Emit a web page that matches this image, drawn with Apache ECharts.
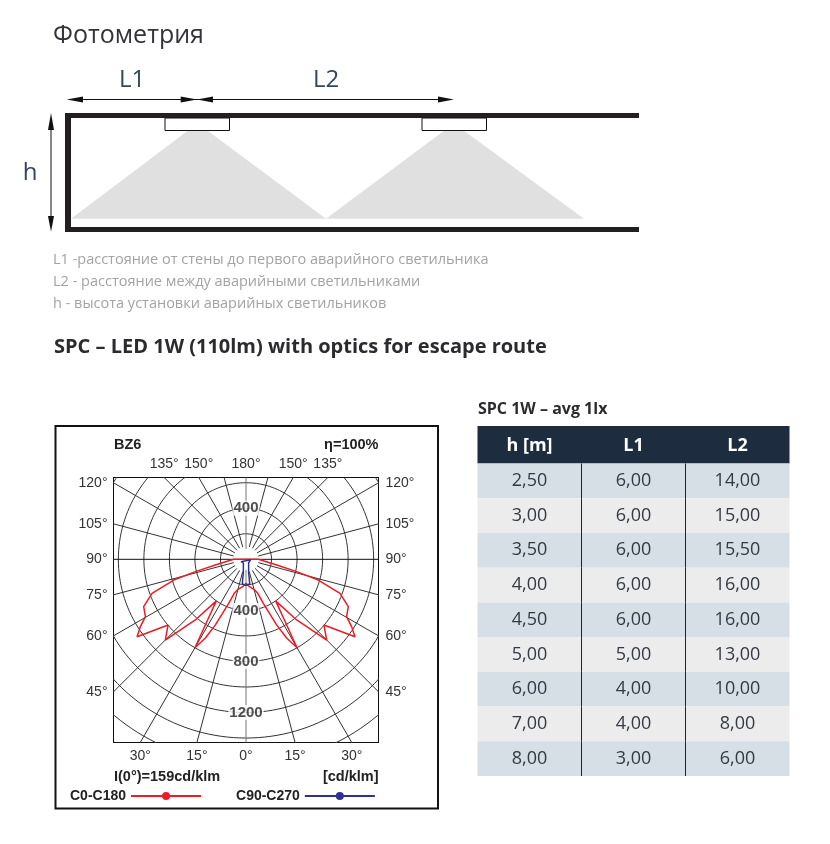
<!DOCTYPE html>
<html><head><meta charset="utf-8">
<style>html,body{margin:0;padding:0;background:#fff}#c{width:830px;height:844px}</style>
<script src="https://cdn.jsdelivr.net/npm/echarts@6/dist/echarts.min.js"></script>
</head><body><div id="c"></div>
<script>
// ---- photometric data (angle from nadir in degrees, intensity in cd/klm)
const c0Angles = [90,79.5,76.3,74,70.1,65.2,60.3,57.5,54.6,49.9,45,39.9,35.5,31.8,30,27.3,25,21.5,18.8,14.9,7,0,
  -7,-14.9,-18.8,-21.5,-25,-27.3,-30,-31.8,-35.5,-39.9,-45,-49.9,-54.6,-57.5,-60.3,-65.2,-70.1,-74,-76.3,-79.5,-90,90];
const c0Values = [97,245,408,589,783,883,907,981,1047,798,894,619,400,605,800,694,567,370,276,243,216,188,
  216,243,276,370,567,694,800,605,400,619,894,798,1047,981,907,883,783,589,408,245,97,97];
const c90Angles = [86,65,36,11.3,9.5,8.5,3.7,0,-3.7,-8.5,-9.5,-11.3,-36,-65,-86,86];
const c90Values = [37,43,35,106,159,195,204,204,204,195,159,106,35,43,37,37];
const ringValues = [200,400,600,800,1000,1200,1400,1600];
const spokeAngles = [15,30,45,60,75,105,120,135,150,165,195,210,225,240,255,285,300,315,330,345];
const ringLabels = [[0,400,'400'],[0,-400,'400'],[0,-800,'800'],[0,-1200,'1200']];
const bottomTickAngles = [-30,-15,0,15,30];
const bottomTickLabels = ['30°','15°','0°','15°','30°'];
const topTickAngles = [-45,-30,0,30,45];
const topTickLabels = ['135°','150°','180°','150°','135°'];
const sideTickAngles = [120,105,90,75,60,45];
const sideTickLabels = ['120°','105°','90°','75°','60°','45°'];
// ---- table data
const tableColumns = ['h [m]','L1','L2'];
const hValues = [2.5,3,3.5,4,4.5,5,6,7,8];
const l1Values = [6,6,6,6,6,5,4,4,3];
const l2Values = [14,15,15.5,16,16,13,10,8,6];

const rad = d => d*Math.PI/180;
const XR = 1038, YTOP = 641, YBOT = -1435;
const toXY = (a,r) => [r*Math.sin(rad(a)), -r*Math.cos(rad(a))];
const lineCfg = {type:'line',showSymbol:false,symbol:'none',silent:true,clip:true,animation:false,xAxisIndex:0,yAxisIndex:0};
const series = [];
ringValues.forEach(r=>{
  const pts=[]; for(let a=0;a<=360;a+=2) pts.push(toXY(a,r));
  series.push({...lineCfg,data:pts,lineStyle:{color:'#333',width:1},z:2});
});
spokeAngles.forEach(a=>{
  series.push({...lineCfg,data:[toXY(a,100),toXY(a,2000)],lineStyle:{color:'#333',width:1},z:2});
});
series.push({...lineCfg,data:[[0,YTOP],[0,82]],lineStyle:{color:'#777',width:1},z:2});
series.push({...lineCfg,data:[[0,-82],[0,YBOT]],lineStyle:{color:'#777',width:1},z:2});
series.push({...lineCfg,data:[[-XR,0],[XR,0]],lineStyle:{color:'#111',width:1},z:2});
series.push({...lineCfg,name:'C0-C180',data:c0Angles.map((a,i)=>toXY(a,c0Values[i])),lineStyle:{color:'#ed1c24',width:1.5},itemStyle:{color:'#ed1c24'},z:4});
series.push({...lineCfg,name:'C90-C270',data:c90Angles.map((a,i)=>toXY(a,c90Values[i])),lineStyle:{color:'#2e3192',width:1.5},itemStyle:{color:'#2e3192'},z:5});
series.push({type:'scatter',symbolSize:0,silent:true,animation:false,xAxisIndex:0,yAxisIndex:0,z:6,
  data:ringLabels.map(d=>({value:[d[0],d[1]],label:{formatter:d[2]}})),
  label:{show:true,position:'inside',fontFamily:'Liberation Sans',fontWeight:'bold',fontSize:15,color:'#222',backgroundColor:'#fff',padding:[0,1,0,1]}});
// table cells
const tableData=[]; [hValues,l1Values,l2Values].forEach((col,c)=>col.forEach((v,r)=>tableData.push([c,r,v])));
series.push({type:'custom',xAxisIndex:2,yAxisIndex:2,silent:true,animation:false,data:tableData,encode:{x:0,y:1},
  renderItem(p,api){
    const c=api.value(0), r=api.value(1), v=api.value(2);
    const pt=api.coord([c,r]), s=api.size([1,1]);
    const x0=pt[0]-s[0]/2, y0=pt[1]-s[1]/2;
    const kids=[{type:'rect',shape:{x:x0,y:y0,width:s[0],height:s[1]},style:{fill:r%2?'#ececec':'#d5dfe5'}}];
    if(c>0) kids.push({type:'line',shape:{x1:x0,y1:y0,x2:x0,y2:y0+s[1]},style:{stroke:'#222',lineWidth:1},z2:5});
    kids.push({type:'text',style:{text:v.toFixed(2).replace('.',','),x:pt[0],y:pt[1],align:'center',verticalAlign:'middle',font:'18px "Open Sans"',fill:'#333a45'},z2:6});
    return {type:'group',children:kids};
  }});

const sideLabel = {show:true,fontFamily:'Liberation Sans',fontSize:14,color:'#333'};
const tanD = d=>Math.tan(rad(d));
const bottomVals = bottomTickAngles.map(a=>-YBOT*tanD(a));
const topVals = topTickAngles.map(a=>YTOP*tanD(a));
const sideVals = sideTickAngles.map(a=>XR*tanD(a-90));
const fmt=(vals,labs)=>v=>{let b=0;vals.forEach((x,i)=>{if(Math.abs(x-v)<Math.abs(vals[b]-v))b=i});return labs[b]};
const line={show:true,onZero:false,lineStyle:{color:'#111',width:1}};

const T=(text,x,y,font,fill,align)=>({type:'text',style:{text,x,y,font,fill,align:align||'left',verticalAlign:'middle'}});
const poly=(points,fill)=>({type:'polygon',shape:{points},style:{fill}});
const rect=(x,y,w,h,fill,stroke,lw)=>({type:'rect',shape:{x,y,width:w,height:h},style:{fill:fill||'none',stroke:stroke||'none',lineWidth:lw||0}});
const seg=(x1,y1,x2,y2,w)=>({type:'line',shape:{x1,y1,x2,y2},style:{stroke:'#111',lineWidth:w||1}});
const OS='"Open Sans"';
const graphic=[
  T('Фотометрия',53,36,'25px '+OS,'#33333a'),
  T('L1',132,80,'24px '+OS,'#34465c','center'),
  T('L2',326,80,'24px '+OS,'#34465c','center'),
  T('h',30,173,'24px '+OS,'#34465c','center'),
  // cones
  poly([[71,218.7],[187.7,130.7],[207.7,130.7],[326,218.7]],'#e0e0e1'),
  poly([[326,218.7],[444,130.7],[464,130.7],[584,218.7]],'#e0e0e1'),
  // room walls
  rect(65,113,574,5,'#231f20'),rect(65,113,6,119,'#231f20'),rect(65,227,574,5,'#231f20'),
  // fixtures
  rect(165,118,64.5,12.5,'#fff','#111',1),rect(422,118,64.5,12.5,'#fff','#111',1),
  // dimension arrows
  seg(70,99.5,450,99.5,1),seg(51,120,51,225,1),
  poly([[66.7,99.5],[83,96.5],[83,102.5]],'#111'),
  poly([[197,99.5],[180.7,96.5],[180.7,102.5]],'#111'),
  poly([[197,99.5],[213,96.5],[213,102.5]],'#111'),
  poly([[454,99.5],[438,96.5],[438,102.5]],'#111'),
  poly([[51,113],[48,130],[54,130]],'#111'),
  poly([[51,231.7],[48,216],[54,216]],'#111'),
  T('L1 -расстояние от стены до первого аварийного светильника',53,260,'14.5px '+OS,'#a3a3a3'),
  T('L2 - расстояние между аварийными светильниками',53,282,'14.5px '+OS,'#a3a3a3'),
  T('h - высота установки аварийных светильников',53,304,'14.5px '+OS,'#a3a3a3'),
  T('SPC – LED 1W (110lm) with optics for escape route',54,347,'bold 20px '+OS,'#2b2b2f'),
  T('SPC 1W – avg 1lx',478,409,'bold 16px '+OS,'#2b2b2f'),
  // photometric panel
  rect(55.5,426,382.5,382.5,'none','#111',2),
  T('BZ6',114,445,'bold 14.5px "Liberation Sans"','#222'),
  T('η=100%',378.5,445,'bold 14.5px "Liberation Sans"','#222','right'),
  T('I(0°)=159cd/klm',114,777,'bold 14.5px "Liberation Sans"','#222'),
  T('[cd/klm]',378.5,777,'bold 14.5px "Liberation Sans"','#222','right'),
  // table header band
  rect(477.5,426,312,37.5,'#1d2c3f')
];

const chart=echarts.init(document.getElementById('c'),null,{renderer:'canvas'});
chart.setOption({
  animation:false,backgroundColor:'#fff',
  graphic:{elements:graphic.map(g=>({...g,z:-1,silent:true}))},
  legend:{show:true,left:70,top:789,itemWidth:70,itemHeight:10,itemGap:34,align:'right',selectedMode:false,padding:0,
    textStyle:{fontFamily:'Liberation Sans',fontWeight:'bold',fontSize:14,color:'#222'},
    data:[{name:'C0-C180',textStyle:{width:78}},{name:'C90-C270',textStyle:{width:89}}]},
  grid:[{left:113.5,top:477.5,width:265,height:265,containLabel:false},
        {left:477.5,top:463.5,width:312,height:312.5,containLabel:false}],
  xAxis:[
    {type:'value',gridIndex:0,position:'bottom',min:-XR,max:XR,axisLine:line,axisTick:{show:false},splitLine:{show:false},
      axisLabel:{...sideLabel,margin:7,customValues:bottomVals,formatter:fmt(bottomVals,bottomTickLabels)}},
    {type:'value',gridIndex:0,position:'top',min:-XR,max:XR,axisLine:line,axisTick:{show:false},splitLine:{show:false},
      axisLabel:{...sideLabel,margin:6,customValues:topVals,formatter:fmt(topVals,topTickLabels)}},
    {type:'category',gridIndex:1,position:'top',data:tableColumns,axisLine:{show:false},axisTick:{show:false},splitLine:{show:false},
      axisLabel:{show:true,color:'#fff',fontFamily:'Open Sans',fontWeight:'bold',fontSize:18,margin:9}}
  ],
  yAxis:[
    {type:'value',gridIndex:0,position:'left',min:YBOT,max:YTOP,axisLine:line,axisTick:{show:false},splitLine:{show:false},
      axisLabel:{...sideLabel,margin:6,padding:[5,0,0,0],customValues:sideVals,formatter:fmt(sideVals,sideTickLabels)}},
    {type:'value',gridIndex:0,position:'right',min:YBOT,max:YTOP,axisLine:line,axisTick:{show:false},splitLine:{show:false},
      axisLabel:{...sideLabel,margin:7,padding:[5,0,0,0],customValues:sideVals,formatter:fmt(sideVals,sideTickLabels)}},
    {type:'category',gridIndex:1,inverse:true,data:hValues.map(String),axisLine:{show:false},axisTick:{show:false},axisLabel:{show:false},splitLine:{show:false}}
  ],
  series
});
</script></body></html>
